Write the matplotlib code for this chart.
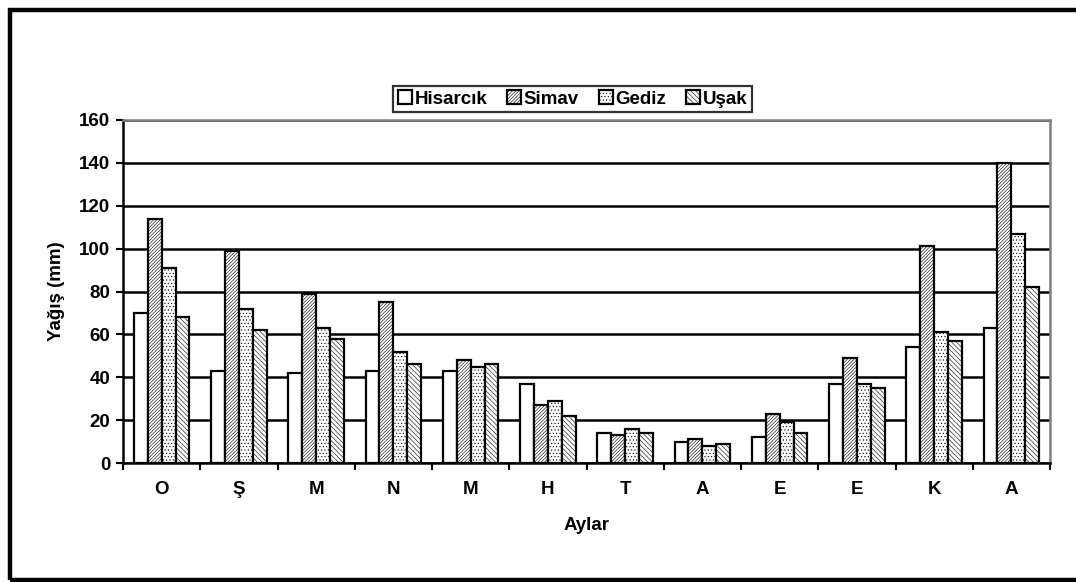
import matplotlib
matplotlib.use("Agg")
import matplotlib.pyplot as plt
from matplotlib.patches import Rectangle
import numpy as np

plt.rcParams['font.family'] = ['Liberation Sans', 'DejaVu Sans']
plt.rcParams['font.weight'] = 'bold'
plt.rcParams['hatch.linewidth'] = 0.4

months = ['O', 'Ş', 'M', 'N', 'M', 'H', 'T', 'A', 'E', 'E', 'K', 'A']
hisarcik = [70, 43, 42, 43, 43, 37, 14, 10, 12, 37, 54, 63]
simav = [114, 99, 79, 75, 48, 27, 13, 11, 23, 49, 101, 140]
gediz = [91, 72, 63, 52, 45, 29, 16, 8, 19, 37, 61, 107]
usak = [68, 62, 58, 46, 46, 22, 14, 9, 14, 35, 57, 82]

series = [('Hisarcık', hisarcik, ''),
          ('Simav', simav, '/' * 10),
          ('Gediz', gediz, '.' * 5),
          ('Uşak', usak, '\\' * 7)]

W, H = 1076, 582
fs = 13.5
fig = plt.figure(figsize=(W / 100, H / 100), dpi=100)
# outer chart frame
fig.patches.append(Rectangle((10 / W, 2 / H), 1.2, 1 - 12 / H, transform=fig.transFigure,
                             fill=False, edgecolor='black', linewidth=3.2))

ax = fig.add_axes([123 / W, 1 - 463 / H, (1050 - 123) / W, (463 - 120) / H])

x = np.arange(len(months))
bw = 0.18
for i, (name, vals, hatch) in enumerate(series):
    ax.bar(x + (i - 1.5) * bw, vals, bw, color='white', edgecolor='black',
           linewidth=1.6, hatch=hatch, label=name, zorder=3)

ax.set_xlim(-0.5, len(months) - 0.5)
ax.set_ylim(0, 160)
ax.set_yticks(range(0, 161, 20))
ax.yaxis.grid(True, color='black', linewidth=1.8)
ax.set_axisbelow(True)

ax.set_xticks(np.arange(-0.5, len(months), 1))
ax.set_xticklabels([])
ax.set_xticks(x, minor=True)
ax.set_xticklabels(months, minor=True, fontsize=fs, fontweight='bold')
ax.tick_params(axis='x', which='major', direction='out', length=5, width=1.5)
ax.tick_params(axis='x', which='minor', length=0, pad=13)
ax.tick_params(axis='y', direction='out', length=5, width=1.5, labelsize=fs, pad=4)

for s in ['left', 'bottom']:
    ax.spines[s].set_linewidth(1.8)
    ax.spines[s].set_color('black')
for s in ['top', 'right']:
    ax.spines[s].set_linewidth(1.8)
    ax.spines[s].set_color('#808080')

ax.set_ylabel('Yağış (mm)', fontsize=fs, fontweight='bold', labelpad=10)
ax.set_xlabel('Aylar', fontsize=fs, fontweight='bold', labelpad=14)

leg = ax.legend(ncol=4, loc='lower center', bbox_to_anchor=(0.485, 0.995), fontsize=fs,
                handlelength=0.75, handleheight=0.75, handletextpad=0.15,
                columnspacing=1.05, borderpad=0.25, borderaxespad=0.5,
                fancybox=False, frameon=True)
leg.get_frame().set_edgecolor('black')
leg.get_frame().set_linewidth(1.6)
for t in leg.get_texts():
    t.set_fontweight('bold')

fig.savefig('out.png', dpi=100)
